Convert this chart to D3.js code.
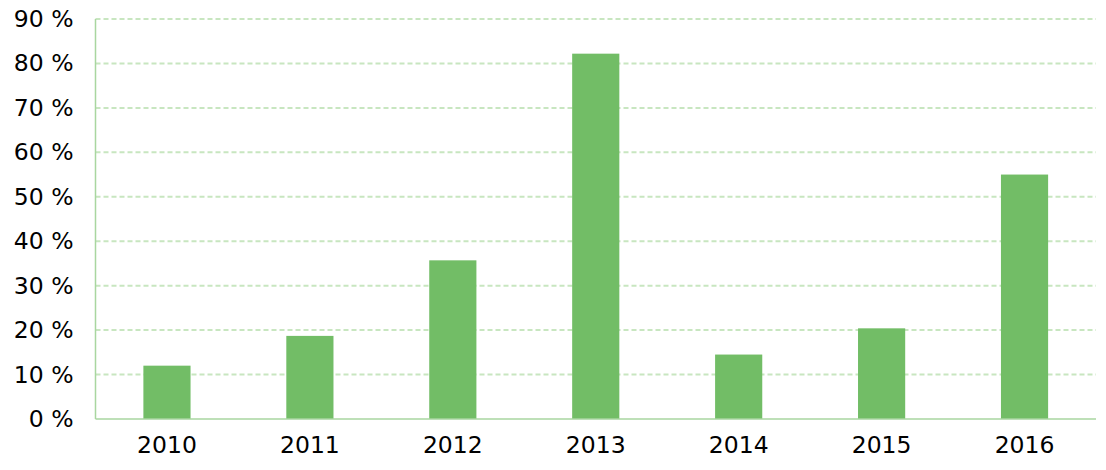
<!DOCTYPE html>
<html><head><meta charset="utf-8">
<script src="https://cdn.jsdelivr.net/npm/d3@7"></script>
<style>body{margin:0;background:#fff}</style>
</head><body>
<svg id="c" width="1106" height="470"></svg>
<script>
const categories = ["2010","2011","2012","2013","2014","2015","2016"];
const values = [12.0, 18.7, 35.7, 82.2, 14.5, 20.4, 55.0];
const yTicks = [0,10,20,30,40,50,60,70,80,90];

const svg = d3.select("#c");
const m = {left:95.5, right:1096, top:19, bottom:419};
const x = d3.scaleBand().domain(categories).range([m.left, m.right]).paddingInner(0.67).paddingOuter(0.335);
const y = d3.scaleLinear().domain([0,90]).range([m.bottom, m.top]);
const font = "'DejaVu Sans', sans-serif";

// gridlines
svg.append("g").selectAll("line").data(yTicks.filter(d=>d>0)).join("line")
  .attr("x1", m.left).attr("x2", m.right)
  .attr("y1", d=>y(d)).attr("y2", d=>y(d))
  .attr("stroke", "#c8e6c0").attr("stroke-width", 2).attr("stroke-dasharray", "5,3");

// bars
svg.append("g").selectAll("rect").data(values).join("rect")
  .attr("x", (d,i)=>x(categories[i])).attr("width", x.bandwidth())
  .attr("y", d=>y(d)).attr("height", d=>y(0)-y(d))
  .attr("fill", "#72bd66");

// axes lines
svg.append("line").attr("x1", m.left).attr("x2", m.left).attr("y1", m.top).attr("y2", m.bottom)
  .attr("stroke", "#a9d6a0").attr("stroke-width", 1.5);
svg.append("line").attr("x1", m.left).attr("x2", m.right).attr("y1", m.bottom).attr("y2", m.bottom)
  .attr("stroke", "#a9d6a0").attr("stroke-width", 1.5);

// y labels
const yAxis = d3.axisLeft(y).tickValues(yTicks).tickFormat(d=>d+" %").tickSize(0).tickPadding(22);
const ya = svg.append("g").attr("transform", `translate(${m.left},0)`).call(yAxis);
ya.select(".domain").remove();
ya.selectAll("text").attr("font-family", font).attr("font-size", 23.5).attr("fill", "#000");

// x labels
const xAxis = d3.axisBottom(x).tickSize(0).tickPadding(17);
const xa = svg.append("g").attr("transform", `translate(0,${m.bottom})`).call(xAxis);
xa.select(".domain").remove();
xa.selectAll("text").attr("font-family", font).attr("font-size", 23.5).attr("fill", "#000");
</script>
</body></html>
